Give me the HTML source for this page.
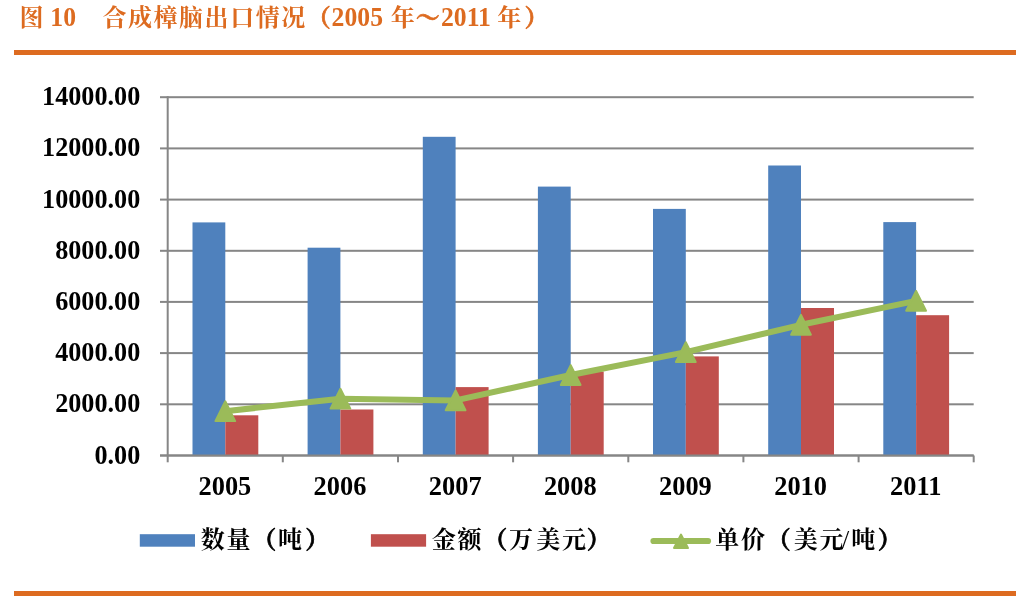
<!DOCTYPE html>
<html lang="zh-CN"><head><meta charset="utf-8"><title>图 10 合成樟脑出口情况</title>
<style>
html,body{margin:0;padding:0;background:#fff;}
body{width:1027px;height:605px;overflow:hidden;position:relative;font-family:"Liberation Serif","Noto Serif CJK SC",serif;}
svg{position:absolute;left:0;top:0;display:block}
text{font-family:"Liberation Serif","Noto Serif CJK SC",serif;font-weight:bold;}
.t{fill:#DD6B20;font-size:24px;letter-spacing:1.55px}
.tl{font-size:25.7px;letter-spacing:0}
.a{fill:#000;font-size:26.4px}
.l{fill:#000;font-size:24px;letter-spacing:1.7px}
.ay{font-size:26.2px}
.ls{font-size:26px;letter-spacing:0;font-weight:normal}
.t .p{stroke:#DD6B20;stroke-width:0.7px}
.l .p{stroke:#000;stroke-width:0.7px}
</style></head><body>
<svg width="1027" height="605" viewBox="0 0 1027 605">
<rect width="1027" height="605" fill="#fff"/>
<rect x="14" y="50" width="1002" height="5" fill="#DD6B20"/>
<rect x="14" y="591" width="1002" height="5" fill="#DD6B20"/>
<g class="t"><text x="19.5" y="25.9">图</text><text class="tl" transform="translate(50.3,26.2) scale(1,1.08)">10</text><text x="102.39999999999999" y="25.9">合成樟脑出口情况</text><text x="306.8" y="25.9"><tspan class="p">（</tspan></text><text class="tl" transform="translate(331.6,26.2) scale(1,1.08)">2005</text><text x="390.8" y="25.9">年</text><text x="415.8" y="25.9"><tspan class="p">～</tspan></text><text class="tl" transform="translate(441,26.2) scale(1,1.08)">2011</text><text x="497.3" y="25.9">年</text><text x="524.5999999999999" y="25.9"><tspan class="p">）</tspan></text></g>
<rect x="160" y="96.2" width="813.7" height="2" fill="#868686"/>
<rect x="160" y="147.4" width="813.7" height="2" fill="#868686"/>
<rect x="160" y="198.6" width="813.7" height="2" fill="#868686"/>
<rect x="160" y="249.8" width="813.7" height="2" fill="#868686"/>
<rect x="160" y="300.9" width="813.7" height="2" fill="#868686"/>
<rect x="160" y="352.1" width="813.7" height="2" fill="#868686"/>
<rect x="160" y="403.3" width="813.7" height="2" fill="#868686"/>
<rect x="160" y="454.5" width="813.7" height="2" fill="#868686"/>
<rect x="192.5" y="222.4" width="32.8" height="233.1" fill="#4F81BD"/><rect x="225.3" y="415.3" width="33.0" height="40.2" fill="#C0504D"/>
<rect x="307.6" y="247.7" width="32.8" height="207.8" fill="#4F81BD"/><rect x="340.4" y="409.5" width="33.0" height="46.0" fill="#C0504D"/>
<rect x="422.8" y="136.8" width="32.8" height="318.7" fill="#4F81BD"/><rect x="455.6" y="387.1" width="33.0" height="68.4" fill="#C0504D"/>
<rect x="537.9" y="186.6" width="32.8" height="268.9" fill="#4F81BD"/><rect x="570.7" y="371.5" width="33.0" height="84.0" fill="#C0504D"/>
<rect x="653.0" y="208.9" width="32.8" height="246.6" fill="#4F81BD"/><rect x="685.8" y="356.4" width="33.0" height="99.1" fill="#C0504D"/>
<rect x="768.2" y="165.5" width="32.8" height="290.0" fill="#4F81BD"/><rect x="801.0" y="308.0" width="33.0" height="147.5" fill="#C0504D"/>
<rect x="883.3" y="222.1" width="32.8" height="233.4" fill="#4F81BD"/><rect x="916.1" y="315.2" width="33.0" height="140.3" fill="#C0504D"/>
<rect x="166.7" y="96.2" width="2" height="366.1" fill="#868686"/>
<rect x="160" y="454.5" width="813.7" height="2" fill="#868686"/>
<rect x="281.8" y="455.5" width="2" height="6.8" fill="#868686"/><rect x="397.0" y="455.5" width="2" height="6.8" fill="#868686"/><rect x="512.1" y="455.5" width="2" height="6.8" fill="#868686"/><rect x="627.3" y="455.5" width="2" height="6.8" fill="#868686"/><rect x="742.4" y="455.5" width="2" height="6.8" fill="#868686"/><rect x="857.6" y="455.5" width="2" height="6.8" fill="#868686"/><rect x="972.7" y="455.5" width="2" height="6.8" fill="#868686"/>
<polyline points="225.3,411.2 340.4,398.7 455.6,400.4 570.7,375.0 685.8,352.1 801.0,324.8 916.1,300.9" fill="none" stroke="#9BBB59" stroke-width="6" stroke-linejoin="round" stroke-linecap="round"/>
<polygon points="225.3,401.3 235.2,421.1 215.4,421.1" fill="#9BBB59" stroke="#9BBB59" stroke-width="2" stroke-linejoin="round"/><polygon points="340.4,388.8 350.3,408.6 330.5,408.6" fill="#9BBB59" stroke="#9BBB59" stroke-width="2" stroke-linejoin="round"/><polygon points="455.6,390.5 465.5,410.3 445.7,410.3" fill="#9BBB59" stroke="#9BBB59" stroke-width="2" stroke-linejoin="round"/><polygon points="570.7,365.1 580.6,384.9 560.8,384.9" fill="#9BBB59" stroke="#9BBB59" stroke-width="2" stroke-linejoin="round"/><polygon points="685.8,342.2 695.7,362.0 675.9,362.0" fill="#9BBB59" stroke="#9BBB59" stroke-width="2" stroke-linejoin="round"/><polygon points="801.0,314.9 810.9,334.7 791.1,334.7" fill="#9BBB59" stroke="#9BBB59" stroke-width="2" stroke-linejoin="round"/><polygon points="916.1,291.0 926.0,310.8 906.2,310.8" fill="#9BBB59" stroke="#9BBB59" stroke-width="2" stroke-linejoin="round"/>
<g class="a ay" text-anchor="end"><text transform="translate(140.3,105.2) scale(1,1.05)">14000.00</text><text transform="translate(140.3,156.4) scale(1,1.05)">12000.00</text><text transform="translate(140.3,207.6) scale(1,1.05)">10000.00</text><text transform="translate(140.3,258.8) scale(1,1.05)">8000.00</text><text transform="translate(140.3,309.9) scale(1,1.05)">6000.00</text><text transform="translate(140.3,361.1) scale(1,1.05)">4000.00</text><text transform="translate(140.3,412.3) scale(1,1.05)">2000.00</text><text transform="translate(140.3,463.5) scale(1,1.05)">0.00</text></g>
<g class="a" text-anchor="middle"><text transform="translate(224.9,495.2) scale(1,1.05)">2005</text><text transform="translate(340.0,495.2) scale(1,1.05)">2006</text><text transform="translate(455.2,495.2) scale(1,1.05)">2007</text><text transform="translate(570.3,495.2) scale(1,1.05)">2008</text><text transform="translate(685.4,495.2) scale(1,1.05)">2009</text><text transform="translate(800.6,495.2) scale(1,1.05)">2010</text><text transform="translate(915.7,495.2) scale(1,1.05)">2011</text></g>
<rect x="139.8" y="534.2" width="55.2" height="12.5" fill="#4F81BD"/><rect x="370.9" y="534.2" width="55.2" height="12.5" fill="#C0504D"/><line x1="653.5" y1="541" x2="708" y2="541" stroke="#9BBB59" stroke-width="6.2" stroke-linecap="round"/><polygon points="681,534.7 687.9,548 674.1,548" fill="#9BBB59" stroke="#9BBB59" stroke-width="2.2" stroke-linejoin="round"/>
<g class="l"><text x="200.85" y="547.6">数量<tspan class="p">（</tspan>吨</text><text x="305.35" y="547.6"><tspan class="p">）</tspan></text><text x="431.85" y="547.6">金额<tspan class="p">（</tspan>万</text><text x="536.35" y="547.6">美元</text><text x="586.85" y="547.6"><tspan class="p">）</tspan></text><text x="715.35" y="547.6">单价<tspan class="p">（</tspan></text><text x="793.85" y="547.6">美元</text><text class="ls" x="842" y="547.5">/</text><text x="851.35" y="547.6">吨</text><text x="877.85" y="547.6"><tspan class="p">）</tspan></text></g>
</svg>
</body></html>
